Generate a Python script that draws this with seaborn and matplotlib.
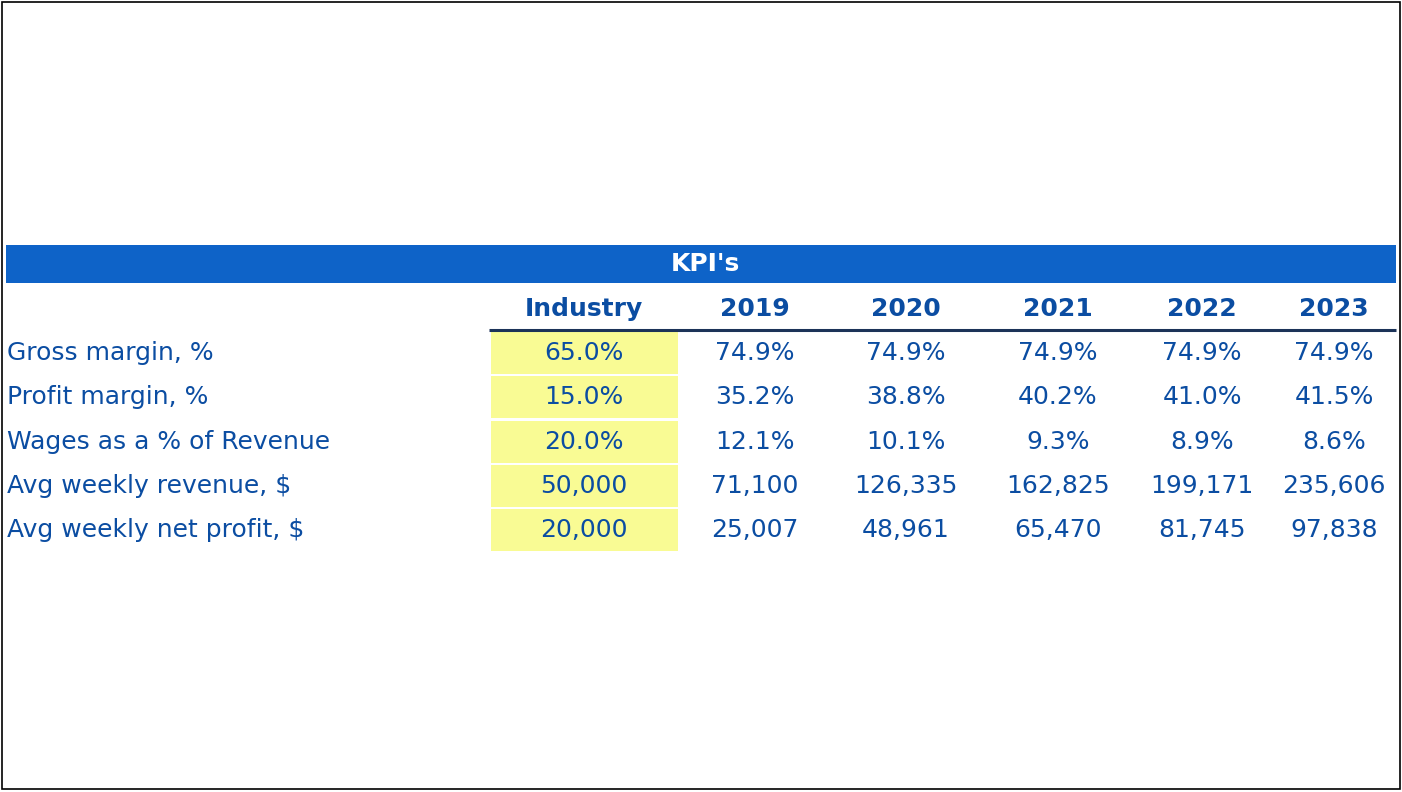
import matplotlib
matplotlib.use("Agg")
import matplotlib.pyplot as plt
import seaborn as sns
from matplotlib.patches import Rectangle

# ---- data ----
title = "KPI's"
columns = ["Industry", "2019", "2020", "2021", "2022", "2023"]
row_labels = ["Gross margin, %", "Profit margin, %", "Wages as a % of Revenue",
              "Avg weekly revenue, $", "Avg weekly net profit, $"]
industry = ["65.0%", "15.0%", "20.0%", "50,000", "20,000"]
y2019 = ["74.9%", "35.2%", "12.1%", "71,100", "25,007"]
y2020 = ["74.9%", "38.8%", "10.1%", "126,335", "48,961"]
y2021 = ["74.9%", "40.2%", "9.3%", "162,825", "65,470"]
y2022 = ["74.9%", "41.0%", "8.9%", "199,171", "81,745"]
y2023 = ["74.9%", "41.5%", "8.6%", "235,606", "97,838"]
year_values = [y2019, y2020, y2021, y2022, y2023]

# ---- style ----
sns.set_theme(style="white")
plt.rcParams['font.family'] = ['DejaVu Sans']

W, H = 1402, 792
fig = plt.figure(figsize=(W / 100, H / 100), dpi=100)
ax = fig.add_axes([0, 0, 1, 1])
ax.set_xlim(0, W)
ax.set_ylim(H, 0)
ax.axis("off")

text_blue = "#0B4DA2"
bar_blue = "#0E63C8"
yellow = "#F9FB94"
fs = 18

# outer frame
ax.add_patch(Rectangle((2, 2), W - 4, H - 5, fill=False, edgecolor="black", linewidth=1.2))

# title bar
ax.add_patch(Rectangle((6, 245), 1390, 38, facecolor=bar_blue, edgecolor="none"))
ax.text(705, 264, title, color="white", fontsize=fs, fontweight="bold",
        ha="center", va="center")

col_x = [584, 755, 906, 1058, 1202, 1334]
header_y = 309
for x, c in zip(col_x, columns):
    ax.text(x, header_y, c, color=text_blue, fontsize=fs, fontweight="bold",
            ha="center", va="center")
ax.plot([489, 1396], [329.5, 329.5], color="#1C3358", linewidth=2.2, solid_capstyle="butt")

row_y0 = 353
row_h = 44.3
for i, lab in enumerate(row_labels):
    y = row_y0 + i * row_h
    # yellow industry cell
    ax.add_patch(Rectangle((491, y - row_h / 2 + 1.2), 187, row_h - 2.4,
                           facecolor=yellow, edgecolor="none"))
    ax.text(7, y, lab, color=text_blue, fontsize=fs, ha="left", va="center")
    ax.text(col_x[0], y, industry[i], color=text_blue, fontsize=fs, ha="center", va="center")
    for x, vals in zip(col_x[1:], year_values):
        ax.text(x, y, vals[i], color=text_blue, fontsize=fs, ha="center", va="center")

fig.savefig("out.png", dpi=100)
